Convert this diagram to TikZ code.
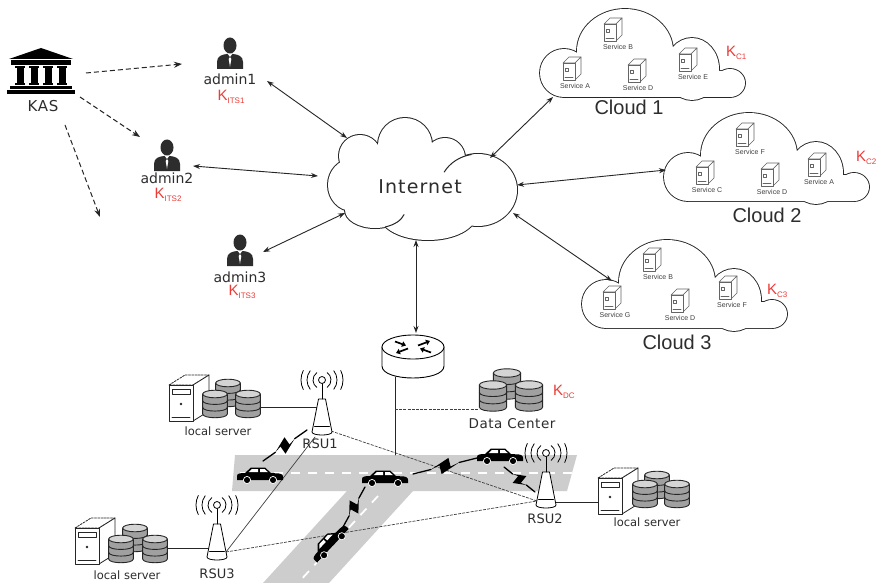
\documentclass[tikz,border=0pt]{standalone}
\usepackage{fontspec}
\setmainfont{Liberation Sans}
\newfontfamily\lblfont{DejaVu Sans}
\usetikzlibrary{arrows.meta,calc}

\definecolor{keyred}{RGB}{235,60,55}
\definecolor{ink}{RGB}{45,45,45}
\definecolor{roadgray}{RGB}{205,205,205}
\definecolor{dbgray}{RGB}{160,160,160}
\definecolor{dbtop}{RGB}{212,212,212}
\definecolor{boxgray}{RGB}{100,100,100}

% red key label: K with a small lowered index
\newcommand\keytext[1]{{\fontsize{15}{15}\selectfont K}\raisebox{-2.5pt}{\fontsize{8}{8}\selectfont #1}}

% outline parts of a service cloud (local frame 205 x 88, y downwards)
\newcommand\svccloudparts{(24,64) ellipse [x radius=24pt, y radius=24pt]
  (85,42) ellipse [x radius=48pt, y radius=42pt]
  (152,60) ellipse [x radius=27pt, y radius=31pt]
  (190,74) ellipse [x radius=15pt, y radius=14pt]
  (24,62) rectangle (190,88)}

% outline parts of the Internet cloud
\newcommand\netparts{(405,145) circle [radius=27pt]
  (360,156) circle [radius=21pt]
  (352,185) ellipse [x radius=24pt, y radius=26pt]
  (375,210) ellipse [x radius=30pt, y radius=18pt]
  (428,215) ellipse [x radius=48pt, y radius=25pt]
  (478,190) ellipse [x radius=39pt, y radius=36pt]
  (445,158) circle [radius=20pt]
  (420,185) ellipse [x radius=62pt, y radius=38pt]}

% wireless hop: line with a lightning flash in the middle
\newcommand\boltlink[2]{%
  \coordinate (zp1) at ($(#1)!0.28!(#2)$);
  \coordinate (zp2) at ($(#1)!0.72!(#2)$);
  \coordinate (zq1) at ($(#1)!0.58!(#2)$);
  \coordinate (zq2) at ($(#1)!0.42!(#2)$);
  \draw[boltline] (#1) -- (zp1) (zp2) -- (#2);
  \fill (zp1) -- ($(zq1)!7pt!90:(#2)$) -- ($(zq1)!1.8pt!-90:(#2)$) -- (zp2)
        -- ($(zq2)!7pt!-90:(#2)$) -- ($(zq2)!1.8pt!90:(#2)$) -- cycle;
}

\tikzset{
  namelbl/.style={font=\lblfont\fontsize{14}{16}\selectfont, text=ink, inner sep=0pt},
  keylbl/.style={text=keyred, inner sep=0pt},
  kaslbl/.style={font=\lblfont\fontsize{15}{17}\selectfont\addfontfeature{LetterSpace=4}, text=ink, inner sep=0pt},
  netlbl/.style={font=\lblfont\fontsize{19}{21}\selectfont\addfontfeature{LetterSpace=6}, text=ink, inner sep=0pt},
  cloudlbl/.style={font=\fontsize{20}{22}\selectfont, text=ink, inner sep=0pt},
  svclbl/.style={font=\fontsize{7}{8}\selectfont, text=black!75, inner sep=0pt},
  sitelbl/.style={font=\lblfont\fontsize{11.5}{13}\selectfont, text=ink, inner sep=0pt},
  rsulbl/.style={font=\lblfont\fontsize{13}{15}\selectfont, text=ink, inner sep=0pt},
  dclbl/.style={font=\lblfont\fontsize{13.5}{15}\selectfont\addfontfeature{LetterSpace=4}, text=ink, inner sep=0pt},
  link/.style={line width=0.9pt, draw=black!85, {Stealth[length=7pt,width=5pt]}-{Stealth[length=7pt,width=5pt]}},
  keyflow/.style={line width=1pt, draw=black!85, line cap=butt, dash pattern=on 5pt off 3pt, -{Stealth[length=8pt,width=6pt]}},
  wire/.style={line width=0.9pt, draw=black!85},
  radiolink/.style={line width=0.7pt, draw=black!75, line cap=butt, dash pattern=on 3pt off 1.2pt},
  radiosolid/.style={line width=0.7pt, draw=black!75},
  boltline/.style={line width=1.3pt, draw=black},
  lane/.style={white, line width=1.8pt, line cap=butt, dash pattern=on 9pt off 8pt},
  dbline/.style={line width=0.9pt, draw=black!85},
  person/.pic={
    \fill[ink] (0,-7.5) ellipse [x radius=6.5pt, y radius=8pt];
    \fill[ink] (-13,16) -- (-13,9) .. controls (-13,3) and (-8,1.5) .. (-3,1) -- (3,1)
      .. controls (8,1.5) and (13,3) .. (13,9) -- (13,16) -- cycle;
    \fill[white] (-2.2,1) -- (2.2,1) -- (0,4) -- cycle;
    \fill[white] (0,4) -- (1.3,6) -- (0,14) -- (-1.3,6) -- cycle;
  },
  bank/.pic={
    \fill (-32,11) -- (0,0) -- (32,11) -- cycle;
    \fill (-30,12.5) rectangle (30,17);
    \foreach \cx in {-21,-7,7,21}{
      \fill (\cx-5,18.5) rectangle (\cx+5,20.5);
      \fill (\cx-3.5,20.5) rectangle (\cx+3.5,35);
      \fill (\cx-5,35) rectangle (\cx+5,37);
    }
    \fill (-31,38.5) rectangle (31,41.5);
    \fill (-34,42.5) rectangle (34,46);
  },
  svcbox/.pic={
    \begin{scope}[line width=0.6pt, draw=boxgray]
      \draw[fill=white] (-3,-11) -- (9,-11) -- (3,-5) -- (-9,-5) -- cycle;
      \draw[fill=white] (3,-5) -- (9,-11) -- (9,6) -- (3,12) -- cycle;
      \draw[fill=white] (-9,-5) rectangle (3,12);
      \draw (-6.5,0) rectangle (-3.5,3);
      \draw (-7,9) -- (1,9);
    \end{scope}
  },
  db/.pic={
    \fill[dbgray] (-13,0) -- (-13,21) .. controls (-13,26.3) and (13,26.3) .. (13,21) -- (13,0) -- cycle;
    \draw[dbline] (-13,0) -- (-13,21) .. controls (-13,26.3) and (13,26.3) .. (13,21) -- (13,0);
    \draw[dbline] (-13,7) .. controls (-13,12.3) and (13,12.3) .. (13,7);
    \draw[dbline] (-13,14) .. controls (-13,19.3) and (13,19.3) .. (13,14);
    \draw[dbline, fill=dbtop] (0,0) ellipse [x radius=13pt, y radius=4pt];
  },
  tower/.pic={
    \begin{scope}[line width=0.8pt, draw=black!85]
      \draw[fill=white, dash pattern=on 2pt off 1.2pt] (0,10) -- (16,0) -- (40,0) -- (24,10) -- cycle;
      \draw[fill=white] (24,10) -- (40,0) -- (40,36) -- (24,46) -- cycle;
      \draw[fill=white] (0,10) rectangle (24,46);
      \draw (3,14) rectangle (21,19);
      \fill[black!85] (12,29) circle [radius=1.4pt];
      \draw (3,42) -- (21,42);
    \end{scope}
  },
  rsu/.pic={
    \draw[line width=0.8pt, fill=white] (-10,-3) -- (-3.5,-36) -- (3.5,-36) -- (10,-3)
      .. controls (10,1) and (-10,1) .. (-10,-3) -- cycle;
    \draw[line width=0.8pt] (-7.5,-9) -- (7.5,-9);
    \draw[line width=0.8pt] (0,-36) -- (0,-51.5);
    \draw[line width=0.8pt, fill=white] (0,-55) circle [radius=3.5pt];
    \foreach \r/\a in {9pt/55,15pt/38,21pt/27}{
      \draw[line width=0.8pt] ([shift={(180-\a:\r)}]0,-55) arc[start angle=180-\a, end angle=180+\a, radius=\r];
      \draw[line width=0.8pt] ([shift={(-\a:\r)}]0,-55) arc[start angle=-\a, end angle=\a, radius=\r];
    }
  },
  router/.pic={
    \draw[line width=0.9pt, fill=white] (-31,0) -- (-31,19) .. controls (-31,35) and (31,35) .. (31,19) -- (31,0);
    \draw[line width=0.9pt, fill=white] (0,0) ellipse [x radius=31pt, y radius=12pt];
    \begin{scope}[line width=1.7pt, line cap=butt, -{Triangle[length=4pt,width=5.5pt]}]
      \draw (-18,-5.5) -- (-7,-1.5);
      \draw (18,5.5) -- (7,1.5);
      \draw (5,-1.5) -- (17,-6);
      \draw (-5,1.5) -- (-17,6);
    \end{scope}
  },
  car/.pic={
    \fill (-23,4) -- (-23,0) .. controls (-23,-2.5) and (-20,-3) .. (-15,-3) -- (-9,-8.5) -- (5,-8.5)
      -- (11,-3) -- (19,-2.5) .. controls (23,-2) and (23.5,0) .. (23,4) -- cycle;
    \fill[white] (-8,-7) -- (-2,-7) -- (-2,-3.8) -- (-11.5,-3.8) -- cycle;
    \fill[white] (0,-7) -- (4.5,-7) -- (8,-3.8) -- (0,-3.8) -- cycle;
    \draw[white, line width=0.7pt, fill=black] (-13,4) circle [radius=3.6pt] (13,4) circle [radius=3.6pt];
  },
  svccloud/.pic={
    \draw[line width=1.8pt, black!85] \svccloudparts;
    \fill[white] \svccloudparts;
  },
}

\begin{document}
\begin{tikzpicture}[x=1pt, y=-1pt, line cap=round, line join=round]
\useasboundingbox (0,0) rectangle (878,583);
\fill[white] (0,0) rectangle (878,583);

% ---------- road with lane markings ----------
\fill[roadgray] (235,455) -- (577,455) -- (567,491) -- (413,491) -- (329,583) -- (263,583)
  -- (347,491) -- (232,491) -- cycle;
\draw[lane] (240,473) -- (572,473);
\draw[lane] (378,496) -- (298,583);

% ---------- anchor points ----------
\coordinate (kas-a) at (86,73);   \coordinate (to-adm1) at (182,64);
\coordinate (kas-b) at (80,97);   \coordinate (to-adm2) at (140,137);
\coordinate (kas-c) at (65,125);  \coordinate (to-adm3) at (100,217);
\coordinate (adm1-port) at (267,81);
\coordinate (adm2-port) at (193,166);
\coordinate (adm3-port) at (263,252);
\coordinate (net-a1) at (347,138);
\coordinate (net-a2) at (318,176);
\coordinate (net-a3) at (345,213);
\coordinate (net-c1) at (490,158);
\coordinate (net-c2) at (517,185);
\coordinate (net-c3) at (513,213);
\coordinate (net-r) at (416,240);
\coordinate (c1-port) at (553,97);
\coordinate (c2-port) at (666,170);
\coordinate (c3-port) at (612,281);
\coordinate (rt-top) at (416,333);
\coordinate (rt-port) at (395,377);
\coordinate (road-end) at (395,455);
\coordinate (dc-tap) at (395,409);
\coordinate (dc-port) at (479,409);
\coordinate (rsu1-e) at (331,431);
\coordinate (rsu1-s) at (315,437);
\coordinate (rsu2-w) at (537,501);
\coordinate (rsu3-e) at (226,552);
\coordinate (ls1-port) at (261,407);  \coordinate (rsu1-port) at (317,407);
\coordinate (rsu2-port) at (555,502); \coordinate (ls2-port) at (598,502);
\coordinate (ls3-port) at (167,548);  \coordinate (rsu3-port) at (209,548);
\coordinate (b1a) at (307,430); \coordinate (b1b) at (263,461);
\coordinate (b2a) at (413,474); \coordinate (b2b) at (477,458);
\coordinate (b3a) at (504,467); \coordinate (b3b) at (535,492);
\coordinate (b4a) at (365,487); \coordinate (b4b) at (343,527);

% ---------- roadside links ----------
\draw[radiolink] (rsu1-e) -- (rsu2-w);
\draw[radiosolid] (rsu1-s) -- (rsu3-e);
\draw[radiolink] (rsu3-e) -- (rsu2-w);
\draw[wire] (ls1-port) -- (rsu1-port);
\draw[wire] (rsu2-port) -- (ls2-port);
\draw[wire] (ls3-port) -- (rsu3-port);
\draw[wire] (rt-port) -- (road-end);
\draw[radiolink] (dc-tap) -- (dc-port);

% ---------- vehicles ----------
\pic at (260,476) {car};
\pic at (385,479) {car};
\pic at (500,457) {car};
\pic[rotate=47] at (330,543) {car};

% ---------- wireless hops ----------
\boltlink{b1a}{b1b}
\boltlink{b2a}{b2b}
\boltlink{b3a}{b3b}
\boltlink{b4a}{b4b}

% ---------- roadside units ----------
\pic at (322,435) {rsu};
\pic at (546,508) {rsu};
\pic at (217,560) {rsu};
\node[rsulbl] (rsu1) at (320,444) {RSU1};
\node[rsulbl] (rsu2) at (545,519) {RSU2};
\node[rsulbl] (rsu3) at (217,574) {RSU3};

% ---------- local servers ----------
\pic at (169,375) {tower};
\pic[scale=0.95] at (228,383) {db};
\pic[scale=0.95] at (215,394) {db};
\pic[scale=0.95] at (248,394) {db};
\node[sitelbl] (ls1) at (218,431) {local server};

\pic at (598,468) {tower};
\pic[scale=0.95] at (657,475) {db};
\pic[scale=0.95] at (645,484) {db};
\pic[scale=0.95] at (677,484) {db};
\node[sitelbl] (ls2) at (647,522) {local server};

\pic at (75,518) {tower};
\pic[scale=0.95] at (135,528) {db};
\pic[scale=0.95] at (121,539) {db};
\pic[scale=0.95] at (155,539) {db};
\node[sitelbl] (ls3) at (127,575) {local server};

% ---------- data center ----------
\pic[scale=1.05] at (507,373) {db};
\pic[scale=1.05] at (493,385) {db};
\pic[scale=1.05] at (529,385) {db};
\node[dclbl] (dc) at (512,424) {Data Center};
\node[keylbl, anchor=west] (kdc) at (553,392) {\keytext{DC}};

% ---------- router ----------
\pic at (413,347) {router};

% ---------- Internet cloud ----------
\draw[line width=2pt, black!85] \netparts;
\fill[white] \netparts;
\draw[line width=1pt, black!85] ([shift={(150:39pt and 36pt)}]478,190)
  arc[start angle=150, end angle=100, x radius=39pt, y radius=36pt];
\draw[line width=1pt, black!85] ([shift={(-70:30pt and 18pt)}]375,210)
  arc[start angle=-70, end angle=-15, x radius=30pt, y radius=18pt];
\node[netlbl] (net) at (420,187) {Internet};

% ---------- service clouds ----------
\pic at (540,9) {svccloud};
\pic at (664,113) {svccloud};
\pic at (582,240) {svccloud};

\foreach \ix/\iy/\lx/\ly/\s in {613/29/618/47/B, 572/68/575/86/A, 637/70/638/88/D, 688/59/693/77/E,
  745/134/750/152/F, 705/172/707/190/C, 770/174/772/192/D, 817/164/819/182/A,
  652/259/658/277/B, 612/297/615/315/G, 680/300/680/318/D, 728/287/732/305/F}{
  \pic at (\ix,\iy) {svcbox};
  \node[svclbl] at (\lx,\ly) {Service \s};
}

\node[cloudlbl] (cloud1) at (629,107) {Cloud 1};
\node[cloudlbl] (cloud2) at (767,215) {Cloud 2};
\node[cloudlbl] (cloud3) at (677,342) {Cloud 3};
\node[keylbl, anchor=west] (kc1) at (726,53) {\keytext{C1}};
\node[keylbl, anchor=west] (kc2) at (856,158) {\keytext{C2}};
\node[keylbl, anchor=west] (kc3) at (767,291) {\keytext{C3}};

% ---------- key authority and administrators ----------
\pic at (41,48) {bank};
\node[kaslbl] (kas) at (43,106) {KAS};

\pic at (230,53) {person};
\pic at (167,155) {person};
\pic at (240,250) {person};
\node[namelbl] (adm1) at (230,79) {admin1};
\node[namelbl] (adm2) at (167,178) {admin2};
\node[namelbl] (adm3) at (240,277) {admin3};
\node[keylbl] (k1) at (231,97) {\keytext{ITS1}};
\node[keylbl] (k2) at (168,195) {\keytext{ITS2}};
\node[keylbl] (k3) at (242,292) {\keytext{ITS3}};

\draw[keyflow] (kas-a) -- (to-adm1);
\draw[keyflow] (kas-b) -- (to-adm2);
\draw[keyflow] (kas-c) -- (to-adm3);

% ---------- links to the Internet ----------
\draw[link] (adm1-port) -- (net-a1);
\draw[link] (adm2-port) -- (net-a2);
\draw[link] (adm3-port) -- (net-a3);
\draw[link] (c1-port) -- (net-c1);
\draw[link] (c2-port) -- (net-c2);
\draw[link] (c3-port) -- (net-c3);
\draw[link] (rt-top) -- (net-r);
\end{tikzpicture}
\end{document}
